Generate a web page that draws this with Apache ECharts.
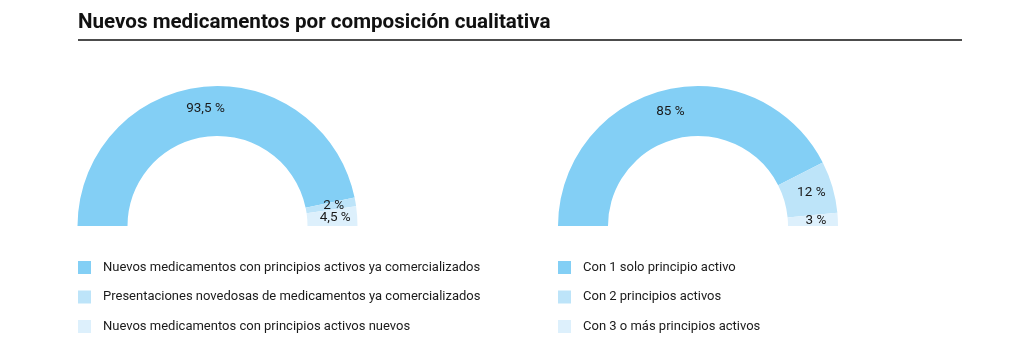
<!DOCTYPE html>
<html><head><meta charset="utf-8">
<script src="https://cdn.jsdelivr.net/npm/echarts@6/dist/echarts.min.js"></script>
<style>html,body{margin:0;padding:0;background:#fff}#c{width:1024px;height:357px}</style>
</head><body><div id="c"></div>
<script>
const titleText = 'Nuevos medicamentos por composición cualitativa';
const leftNames = ['Nuevos medicamentos con principios activos ya comercializados','Presentaciones novedosas de medicamentos ya comercializados','Nuevos medicamentos con principios activos nuevos'];
const leftValues = [93.5, 2, 4.5];
const rightNames = ['Con 1 solo principio activo','Con 2 principios activos','Con 3 o más principios activos'];
const rightValues = [85, 12, 3];
const colors = ['#83cff5','#bde4f9','#ddf0fc'];
const FONT = 'Roboto';

const fmt = p => String(p.value).replace('.', ',') + ' %';
function pie(names, values, cx) {
  return {
    type: 'pie', center: [cx, 226], radius: [90, 140],
    startAngle: 180, endAngle: 0, clockwise: true,
    minAngle: 6, avoidLabelOverlap: false, silent: true,
    labelLayout: { hideOverlap: false },
    label: { show: true, position: 'inside', formatter: fmt, color: '#1a1a1a', fontSize: 13.5, fontFamily: FONT, overflow: 'none' },
    labelLine: { show: false },
    itemStyle: { borderWidth: 0 },
    data: names.map((n, i) => ({ name: n, value: values[i], itemStyle: { color: colors[i] } }))
  };
}
function legend(names, left) {
  return {
    data: names, orient: 'vertical', left: left, top: 256, itemWidth: 13, itemHeight: 13, itemGap: 16.5,
    icon: 'rect', selectedMode: false,
    textStyle: { fontFamily: FONT, fontSize: 13, color: '#1a1a1a', padding: [0, 0, 0, 7] }
  };
}
const chart = echarts.init(document.getElementById('c'), null, { renderer: 'canvas' });
chart.setOption({
  animation: false,
  title: { text: titleText, left: 73, top: 7, textStyle: { fontFamily: FONT, fontSize: 20.6, fontWeight: 'bold', color: '#111' } },
  graphic: [{ type: 'line', shape: { x1: 78, y1: 40, x2: 962, y2: 40 }, style: { stroke: '#111', lineWidth: 1.5 } }],
  legend: [legend(leftNames, 73), legend(rightNames, 553)],
  series: [pie(leftNames, leftValues, 217.5), pie(rightNames, rightValues, 698)]
});
</script></body></html>
